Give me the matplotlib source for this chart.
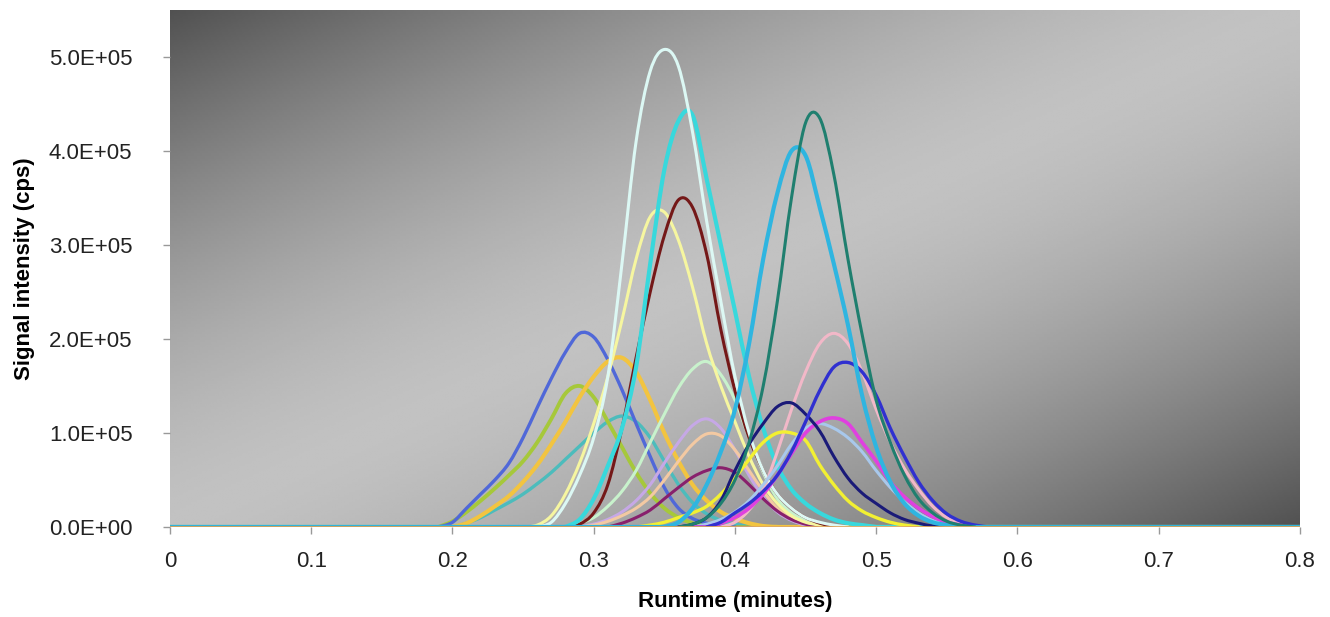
import numpy as np
import matplotlib
matplotlib.use('Agg')
import matplotlib.pyplot as plt
from matplotlib.path import Path
from matplotlib.patches import PathPatch

# sampled every 0.01 min, starting at the listed time; zero elsewhere
STEP = 0.01
RUN_END = 0.8

royal_start = 0.19
royal = [0, 0.05, 0.2, 0.35, 0.5, 0.68, 0.95, 1.27, 1.58, 1.86, 2.06, 2.02, 1.78, 1.46,
         1.1, 0.75, 0.42, 0.2, 0.09, 0.04, 0.01, 0]
ygreen_start = 0.19
ygreen = [0, 0.06, 0.16, 0.28, 0.41, 0.55, 0.7, 0.9, 1.15, 1.42, 1.5, 1.38, 1.12, 0.85,
          0.58, 0.36, 0.2, 0.1, 0.04, 0.01, 0]
gold_start = 0.20
gold = [0, 0.04, 0.12, 0.22, 0.33, 0.48, 0.66, 0.88, 1.12, 1.38, 1.6, 1.76, 1.8, 1.65,
        1.35, 1.0, 0.7, 0.45, 0.28, 0.16, 0.09, 0.04, 0.01, 0]
teal_start = 0.20
teal = [0, 0.04, 0.1, 0.18, 0.26, 0.35, 0.46, 0.58, 0.72, 0.86, 1.0, 1.12, 1.18, 1.12,
        0.95, 0.7, 0.45, 0.26, 0.14, 0.07, 0.03, 0.01, 0]
lyellow_start = 0.25
lyellow = [0, 0.02, 0.12, 0.35, 0.68, 1.1, 1.6, 2.2, 2.85, 3.3, 3.35, 3.05, 2.55, 1.95,
           1.5, 1.12, 0.75, 0.45, 0.25, 0.12, 0.05, 0.02, 0]
lcyan_start = 0.26
lcyan = [0, 0.05, 0.25, 0.55, 0.95, 1.6, 2.8, 4.1, 4.85, 5.08, 4.9, 4.2, 3.25, 2.4, 1.6,
         1.0, 0.6, 0.35, 0.2, 0.1, 0.05, 0.02, 0]
cyan_start = 0.28
cyan = [0, 0.08, 0.3, 0.65, 1.05, 1.7, 2.8, 3.8, 4.32, 4.38, 3.7, 3.0, 2.3, 1.6, 1.05,
        0.65, 0.4, 0.25, 0.15, 0.08, 0.04, 0.02, 0]
maroon_start = 0.28
maroon = [0, 0.03, 0.15, 0.45, 1.05, 1.8, 2.5, 3.1, 3.48, 3.4, 2.9, 2.1, 1.45, 0.95,
          0.6, 0.35, 0.2, 0.1, 0.04, 0]
mint_start = 0.28
mint = [0, 0.04, 0.1, 0.22, 0.38, 0.6, 0.9, 1.2, 1.48, 1.68, 1.76, 1.62, 1.35, 0.95,
        0.58, 0.3, 0.15, 0.07, 0.02, 0]
peach_start = 0.29
peach = [0, 0.02, 0.06, 0.12, 0.2, 0.32, 0.5, 0.7, 0.88, 0.99, 0.97, 0.82, 0.6, 0.38,
         0.2, 0.1, 0.04, 0.01, 0]
purple_start = 0.31
purple = [0, 0.04, 0.1, 0.18, 0.3, 0.42, 0.53, 0.6, 0.63, 0.58, 0.45, 0.3, 0.17, 0.08,
          0.03, 0]
lavender_start = 0.29
lavender = [0, 0.03, 0.08, 0.16, 0.28, 0.45, 0.68, 0.9, 1.08, 1.15, 1.05, 0.82, 0.55,
            0.32, 0.16, 0.07, 0.02, 0]
dteal_start = 0.36
dteal = [0, 0.03, 0.1, 0.25, 0.5, 0.9, 1.5, 2.4, 3.5, 4.3, 4.35, 3.75, 2.85, 2.05, 1.35,
         0.9, 0.55, 0.3, 0.15, 0.06, 0.02, 0]
sky_start = 0.35
sky = [0, 0.05, 0.2, 0.45, 0.8, 1.25, 1.95, 2.85, 3.55, 4.0, 3.95, 3.4, 2.8, 2.15, 1.4,
       0.85, 0.48, 0.25, 0.12, 0.05, 0.02, 0]
navy_start = 0.36
navy = [0, 0.03, 0.1, 0.28, 0.6, 0.88, 1.1, 1.28, 1.32, 1.2, 1.02, 0.75, 0.52, 0.36, 0.25,
        0.15, 0.08, 0.04, 0.01, 0]
yellow_start = 0.33
yellow = [0, 0.02, 0.05, 0.1, 0.15, 0.22, 0.35, 0.52, 0.72, 0.9, 1.0, 1.0, 0.92, 0.66,
          0.45, 0.28, 0.17, 0.1, 0.05, 0.02, 0]
pink_start = 0.39
pink = [0, 0.05, 0.18, 0.4, 0.8, 1.25, 1.65, 1.95, 2.06, 1.95, 1.65, 1.25, 0.9, 0.62,
        0.4, 0.22, 0.1, 0.04, 0.01, 0]
blue_start = 0.38
blue = [0, 0.05, 0.15, 0.25, 0.38, 0.55, 0.8, 1.12, 1.45, 1.7, 1.75, 1.65, 1.4, 1.05,
        0.75, 0.48, 0.28, 0.14, 0.06, 0.02, 0]
steel_start = 0.37
steel = [0, 0.03, 0.08, 0.16, 0.28, 0.45, 0.65, 0.88, 1.05, 1.1, 1.05, 0.95, 0.8, 0.6,
         0.42, 0.27, 0.15, 0.07, 0.03, 0]
magenta_start = 0.38
magenta = [0, 0.04, 0.1, 0.2, 0.35, 0.55, 0.78, 1.0, 1.12, 1.16, 1.1, 0.9, 0.7, 0.48,
           0.32, 0.2, 0.11, 0.05, 0.02, 0]

# (values in 1e5 cps, start, colour, width)
series = [
    (teal, teal_start, '#4cbcbc', 2.4),
    (ygreen, ygreen_start, '#a6c83a', 2.8),
    (royal, royal_start, '#5068d8', 2.4),
    (gold, gold_start, '#f2c440', 3.0),
    (lavender, lavender_start, '#c6a8e6', 2.2),
    (peach, peach_start, '#f3c9a2', 2.2),
    (purple, purple_start, '#88206c', 2.2),
    (mint, mint_start, '#c8f2cc', 2.2),
    (lyellow, lyellow_start, '#f6f6a0', 2.2),
    (maroon, maroon_start, '#741818', 2.2),
    (cyan, cyan_start, '#38d8dc', 3.0),
    (lcyan, lcyan_start, '#dcf8f4', 2.2),
    (pink, pink_start, '#f2b8c8', 2.2),
    (yellow, yellow_start, '#f2f032', 2.4),
    (steel, steel_start, '#a8c8ec', 2.2),
    (magenta, magenta_start, '#e040e0', 2.6),
    (navy, navy_start, '#1a1a78', 2.2),
    (blue, blue_start, '#3030d0', 2.4),
    (sky, sky_start, '#2fb5e0', 3.0),
    (dteal, dteal_start, '#1f7f6f', 2.2),
]

x_ticks = [0, 0.1, 0.2, 0.3, 0.4, 0.5, 0.6, 0.7, 0.8]
x_tick_labels = ['0', '0.1', '0.2', '0.3', '0.4', '0.5', '0.6', '0.7', '0.8']
y_ticks = [0, 1e5, 2e5, 3e5, 4e5, 5e5]
y_tick_labels = ['0.0E+00', '1.0E+05', '2.0E+05', '3.0E+05', '4.0E+05', '5.0E+05']


def smooth_path(xs, ys):
    # spreadsheet-style smoothed line: cubic bezier through every sample
    p = np.column_stack([xs, ys])
    verts = [p[0]]
    codes = [Path.MOVETO]
    n = len(p)
    for i in range(n - 1):
        p0 = p[i - 1] if i > 0 else p[i]
        p3 = p[i + 2] if i + 2 < n else p[i + 1]
        c1 = p[i] + (p[i + 1] - p0) / 6.0
        c2 = p[i + 1] - (p3 - p[i]) / 6.0
        verts += [c1, c2, p[i + 1]]
        codes += [Path.CURVE4] * 3
    return Path(verts, codes)


plt.rcParams['font.family'] = ['Liberation Sans', 'DejaVu Sans']

fig = plt.figure(figsize=(13.3, 6.17), dpi=100)
ax = fig.add_axes([0.1278, 0.1459, 0.8496, 0.8379])

# diagonal grey fill: dark at top-left / bottom-right, light along the other diagonal
u, w = np.meshgrid(np.linspace(0, 1, 400), np.linspace(1, 0, 200))
shade = 0.76 - 0.44 * np.abs(u - w) ** 1.5
ax.imshow(shade, extent=[0, 1, 0, 1], transform=ax.transAxes, aspect='auto',
          cmap='gray', vmin=0, vmax=1, zorder=0, interpolation='bilinear')

for vals, start, col, lw in series:
    xs = [start + STEP * i for i in range(len(vals))]
    ys = [v * 1e5 for v in vals]
    ax.plot([0, xs[0]], [0, 0], color=col, lw=lw, zorder=2)
    ax.plot([xs[-1], RUN_END], [0, 0], color=col, lw=lw, zorder=2)
    ax.add_patch(PathPatch(smooth_path(xs, ys), fill=False, edgecolor=col, lw=lw,
                           joinstyle='round', capstyle='round', zorder=2))

# flat trace along the baseline
ax.plot([0, RUN_END], [0, 0], color='#e0a860', lw=2.0, zorder=3)

ax.set_xlim(0, 0.8)
ax.set_ylim(0, 5.5e5)
ax.set_xticks(x_ticks)
ax.set_xticklabels(x_tick_labels)
ax.set_yticks(y_ticks)
ax.set_yticklabels(y_tick_labels)
for s in ax.spines.values():
    s.set_visible(False)
ax.tick_params(axis='both', colors='#999999', length=5, width=1, labelsize=16,
               labelcolor='#222222')
ax.tick_params(axis='x', pad=12)
ax.tick_params(axis='y', pad=22)
ax.set_xlabel('Runtime (minutes)', fontsize=16, fontweight='bold', labelpad=14)
ax.set_ylabel('Signal intensity (cps)', fontsize=16, fontweight='bold', labelpad=10)

fig.savefig('out.png', dpi=100)
